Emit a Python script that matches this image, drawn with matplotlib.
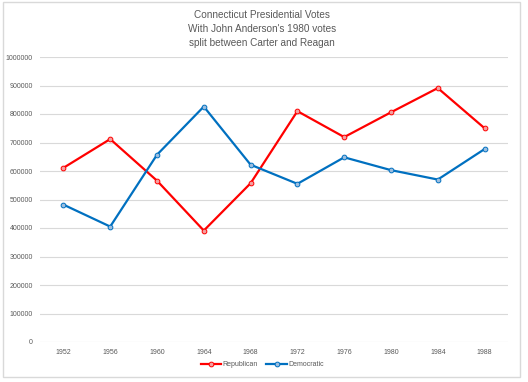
import matplotlib.pyplot as plt
from matplotlib.patches import Rectangle
from matplotlib.ticker import FuncFormatter

# datos
anios = ['1952', '1956', '1960', '1964', '1968', '1972', '1976', '1980', '1984', '1988']
republicano = [611000, 712000, 566000, 391000, 557000, 810000, 719000, 806000, 891000, 750000]
democrata = [482000, 405000, 657000, 826000, 622000, 555000, 648000, 603000, 570000, 677000]

gris = '#595959'
plt.rcParams['font.family'] = ['Liberation Sans', 'DejaVu Sans']

fig = plt.figure(figsize=(5.28, 3.82), dpi=100)
ax = fig.add_axes([40 / 528, 40 / 382, 468 / 528, 285 / 382])

x = range(len(anios))
ax.plot(x, republicano, color='#FF0000', lw=1.6, marker='o', ms=3.4,
        mfc='#F4A0A0', mec='#FF0000', mew=0.7, label='Republican')
ax.plot(x, democrata, color='#0070C0', lw=1.6, marker='o', ms=3.4,
        mfc='#9DBEDF', mec='#0070C0', mew=0.7, label='Democratic')

ax.set_xlim(-0.5, len(anios) - 0.5)
ax.set_ylim(0, 1000000)
ax.set_yticks(range(0, 1000001, 100000))
ax.yaxis.set_major_formatter(FuncFormatter(lambda v, p: f'{int(v)}'))
ax.set_xticks(list(x))
ax.set_xticklabels(anios)
ax.grid(axis='y', color='#D9D9D9', lw=0.8)
ax.set_axisbelow(True)
for s in ax.spines.values():
    s.set_visible(False)
ax.tick_params(length=0, labelsize=5, labelcolor=gris, pad=5)

fig.text(0.496, 0.975, "Connecticut Presidential Votes\nWith John Anderson's 1980 votes\nsplit between Carter and Reagan",
         ha='center', va='top', fontsize=7.2, color=gris, linespacing=1.55)

fig.legend(loc='center', bbox_to_anchor=(0.497, 0.045), ncol=2, frameon=False,
           fontsize=5, labelcolor=gris, handlelength=3.0, handletextpad=0.2,
           columnspacing=1.2)

# marco del grafico
fig.add_artist(Rectangle((3 / 528, 5 / 382), 517 / 528, 375 / 382, transform=fig.transFigure,
                         fill=False, ec='#D9D9D9', lw=1))

fig.savefig('out.png', dpi=100)
